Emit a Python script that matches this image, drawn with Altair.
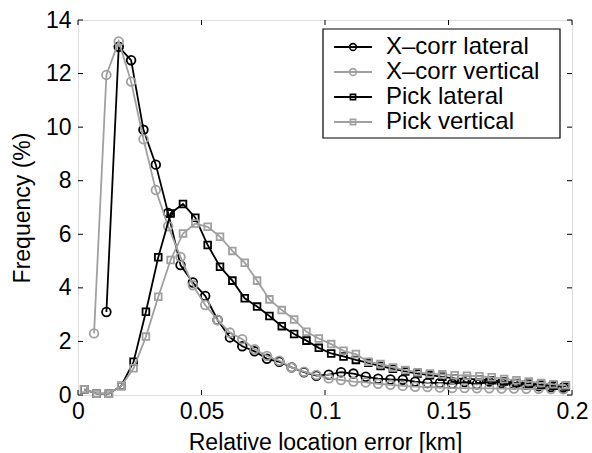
import altair as alt
import pandas as pd

# ---- data ----
xcorr_lat_x = [0.0115, 0.0165, 0.0215, 0.0265, 0.0315, 0.0365, 0.0415, 0.0465, 0.0515, 0.0565,
               0.0615, 0.0665, 0.0715, 0.0765, 0.0815, 0.0865, 0.0915, 0.0965, 0.1015, 0.1065,
               0.1115, 0.1165, 0.1215, 0.1265, 0.1315, 0.1365, 0.1415, 0.1465, 0.1515, 0.1565,
               0.1615, 0.1665, 0.1715, 0.1765, 0.1815, 0.1865, 0.1915, 0.1965]
xcorr_lat_y = [3.1, 13.0, 12.5, 9.9, 8.6, 6.8, 4.85, 4.2, 3.7, 2.8,
               2.15, 1.82, 1.63, 1.35, 1.24, 1.03, 0.85, 0.72, 0.76, 0.85,
               0.80, 0.68, 0.61, 0.58, 0.57, 0.50, 0.45, 0.45, 0.42, 0.48,
               0.40, 0.50, 0.45, 0.40, 0.38, 0.33, 0.30, 0.28]

xcorr_ver_x = [0.0065, 0.0115, 0.0165, 0.0215, 0.0265, 0.0315, 0.0365, 0.0415, 0.0465, 0.0515,
               0.0565, 0.0615, 0.0665, 0.0715, 0.0765, 0.0815, 0.0865, 0.0915, 0.0965, 0.1015,
               0.1065, 0.1115, 0.1165, 0.1215, 0.1265, 0.1315, 0.1365, 0.1415, 0.1465, 0.1515,
               0.1565, 0.1615, 0.1665, 0.1715, 0.1765, 0.1815, 0.1865, 0.1915, 0.1965]
xcorr_ver_y = [2.3, 11.95, 13.2, 11.7, 9.55, 7.65, 6.3, 5.15, 4.1, 3.36,
               2.8, 2.33, 2.08, 1.71, 1.46, 1.28, 1.03, 0.87, 0.75, 0.62,
               0.56, 0.50, 0.47, 0.42, 0.38, 0.34, 0.31, 0.30, 0.28, 0.26,
               0.26, 0.25, 0.25, 0.24, 0.24, 0.23, 0.23, 0.22, 0.21]

pick_x = [0.0025, 0.0075, 0.0125, 0.0175, 0.0225, 0.0275, 0.0325, 0.0375, 0.0425, 0.0475,
          0.0525, 0.0575, 0.0625, 0.0675, 0.0725, 0.0775, 0.0825, 0.0875, 0.0925, 0.0975,
          0.1025, 0.1075, 0.1125, 0.1175, 0.1225, 0.1275, 0.1325, 0.1375, 0.1425, 0.1475,
          0.1525, 0.1575, 0.1625, 0.1675, 0.1725, 0.1775, 0.1825, 0.1875, 0.1925, 0.1975]
pick_lat_y = [0.21, 0.05, 0.05, 0.34, 1.24, 3.11, 5.14, 6.78, 7.13, 6.62,
              5.60, 4.79, 4.27, 3.61, 3.30, 2.95, 2.57, 2.28, 2.03, 1.76,
              1.55, 1.44, 1.31, 1.20, 1.08, 0.98, 0.88, 0.80, 0.74, 0.68,
              0.62, 0.60, 0.58, 0.55, 0.50, 0.45, 0.42, 0.38, 0.35, 0.32]
pick_ver_y = [0.21, 0.05, 0.05, 0.34, 1.00, 2.18, 3.67, 5.04, 6.03, 6.40,
              6.28, 5.91, 5.38, 4.94, 4.27, 3.57, 3.17, 2.82, 2.36, 2.11,
              1.90, 1.65, 1.53, 1.24, 1.16, 1.03, 0.93, 0.85, 0.80, 0.77,
              0.74, 0.72, 0.70, 0.66, 0.60, 0.55, 0.50, 0.45, 0.40, 0.36]

series_names = ["X\u2013corr lateral", "X\u2013corr vertical", "Pick lateral", "Pick vertical"]
series_colors = ["#000000", "#a0a0a0", "#000000", "#a0a0a0"]
series_shapes = ["circle", "circle", "square", "square"]
series_sizes = [75, 75, 45, 45]

x_ticks = [0, 0.05, 0.1, 0.15, 0.2]
y_ticks = [0, 2, 4, 6, 8, 10, 12, 14]

FONT = "Liberation Sans"
W, H = 494, 375

series_data = [
    (xcorr_lat_x, xcorr_lat_y),
    (xcorr_ver_x, xcorr_ver_y),
    (pick_x, pick_lat_y),
    (pick_x, pick_ver_y),
]

x_enc = alt.X("x:Q", scale=alt.Scale(domain=[0, 0.2], nice=False, zero=False),
              axis=alt.Axis(values=x_ticks, format="~g", ticks=False, domain=False, grid=False,
                            labelFont=FONT, labelFontSize=23, labelColor="black",
                            labelPadding=5, labelFlush=False, labelOverlap=False,
                            title="Relative location error [km]", titleFont=FONT,
                            titleFontSize=23, titleFontWeight="normal", titleColor="black",
                            titleX=W / 2, titleY=47, titleBaseline="middle", titleAlign="center"))
y_enc = alt.Y("y:Q", scale=alt.Scale(domain=[0, 14], nice=False, zero=False),
              axis=alt.Axis(values=y_ticks, ticks=False, domain=False, grid=False,
                            labelFont=FONT, labelFontSize=23, labelColor="black",
                            labelPadding=7, labelOverlap=False,
                            title="Frequency (%)", titleFont=FONT,
                            titleFontSize=23, titleFontWeight="normal", titleColor="black",
                            titleX=-56, titleY=H / 2, titleAngle=270,
                            titleBaseline="middle", titleAlign="center"))

layers = []
for i, (xs, ys) in enumerate(series_data):
    df = pd.DataFrame({"x": xs, "y": ys})
    base = alt.Chart(df)
    line = base.mark_line(color=series_colors[i], strokeWidth=1.8).encode(x=x_enc, y=y_enc)
    pts = base.mark_point(shape=series_shapes[i], filled=False, color=series_colors[i],
                          size=series_sizes[i], strokeWidth=1.8, opacity=1).encode(x=x_enc, y=y_enc)
    layers += [line, pts]

# inward tick marks on all four sides
xt = alt.Chart(pd.DataFrame({"x": x_ticks}))
yt = alt.Chart(pd.DataFrame({"y": y_ticks}))
tick_style = dict(color="black", strokeWidth=1)
layers += [
    xt.mark_rule(**tick_style).encode(x=x_enc, y=alt.value(H), y2=alt.value(H - 5)),
    xt.mark_rule(**tick_style).encode(x=x_enc, y=alt.value(0), y2=alt.value(5)),
    yt.mark_rule(**tick_style).encode(y=y_enc, x=alt.value(0), x2=alt.value(5)),
    yt.mark_rule(**tick_style).encode(y=y_enc, x=alt.value(W), x2=alt.value(W - 5)),
]

# legend (drawn in the plot's pixel space)
LX0, LX1, LY0 = 245, 482, 9
ROW0, ROWD = 27, 25
legend_box = alt.Chart(pd.DataFrame({"a": [0]})).mark_rect(
    fill="white", stroke="black", strokeWidth=1.2).encode(
    x=alt.value(LX0), x2=alt.value(LX1), y=alt.value(LY0), y2=alt.value(ROW0 + 3 * ROWD + 16))
layers.append(legend_box)
for i, name in enumerate(series_names):
    ry = ROW0 + i * ROWD
    d = alt.Chart(pd.DataFrame({"label": [name]}))
    layers.append(d.mark_rule(color=series_colors[i], strokeWidth=1.8).encode(
        x=alt.value(256), x2=alt.value(294), y=alt.value(ry)))
    layers.append(d.mark_point(shape=series_shapes[i], filled=False, color=series_colors[i],
                               size=series_sizes[i] * 0.6, strokeWidth=1.6, opacity=1).encode(
        x=alt.value(275), y=alt.value(ry)))
    layers.append(d.mark_text(align="left", baseline="middle", font=FONT, fontSize=24,
                              color="black").encode(x=alt.value(308), y=alt.value(ry), text="label:N"))

chart = alt.layer(*layers).properties(
    width=W, height=H,
    autosize=alt.AutoSizeParams(type="none"),
    padding={"left": 78, "top": 20, "right": 20, "bottom": 58},
).configure_view(stroke="black", strokeWidth=1.2).configure(background="white")

chart.save("out.html", embed_options={"renderer": "svg", "actions": False})
